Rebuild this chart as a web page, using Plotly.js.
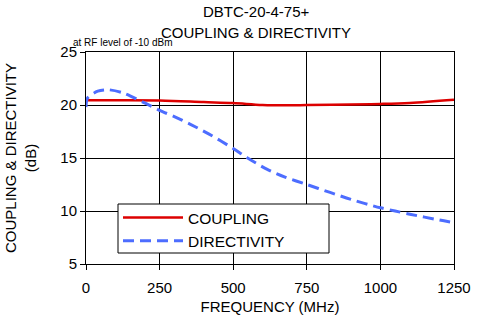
<!DOCTYPE html>
<html><head><meta charset="utf-8">
<script src="https://cdn.plot.ly/plotly-3.0.1.min.js"></script>
<style>html,body{margin:0;padding:0;background:#fff}</style>
</head><body>
<div id="chart" style="width:487px;height:315px"></div>
<script>
const couplingFreq = [0, 100, 250, 400, 500, 600, 700, 750, 900, 1000, 1100, 1250];
const couplingDb   = [20.45, 20.45, 20.43, 20.28, 20.18, 20.0, 19.97, 20.0, 20.05, 20.1, 20.2, 20.5];
const directivityFreq = [0, 5, 40, 75, 125, 195, 250, 300, 353, 415, 500, 546, 614, 676, 750, 829, 900, 1000, 1050, 1100, 1200, 1250];
const directivityDb   = [19.8, 20.65, 21.3, 21.44, 21.15, 20.25, 19.5, 18.9, 18.2, 17.3, 15.9, 15.05, 13.95, 13.2, 12.5, 11.75, 11.1, 10.3, 10.0, 9.7, 9.15, 8.9];
const xTicks = [0, 250, 500, 750, 1000, 1250];
const yTicks = [5, 10, 15, 20, 25];
const titleLines = ['DBTC-20-4-75+', 'COUPLING & DIRECTIVITY'];
const noteText = 'at RF level of -10 dBm';

const fam = 'Liberation Sans, Arial, sans-serif';
const f = s => ({family: fam, size: s, color: '#000'});
const traces = [
  {x: couplingFreq, y: couplingDb, name: 'COUPLING', mode: 'lines', line: {color: '#dd0000', width: 2.5, shape: 'spline'}},
  {x: directivityFreq, y: directivityDb, name: 'DIRECTIVITY', mode: 'lines', line: {color: '#4d6dff', width: 3, dash: '11px,6px', shape: 'spline', smoothing: 0.8}}
];
const plotW = 487 - 86 - 33;
const plotH = 315 - 52 - 51;
const px = v => (v - 86) / plotW;
const py = v => (264 - v) / plotH;
const layout = {
  width: 487, height: 315,
  margin: {l: 86, r: 33, t: 52, b: 51},
  paper_bgcolor: '#fff', plot_bgcolor: '#fff',
  font: f(15),
  xaxis: {range: [0, 1250], tickvals: xTicks, ticktext: xTicks.map(String), showgrid: true, gridcolor: '#000', gridwidth: 1,
    showline: true, linecolor: '#000', linewidth: 1, mirror: true, ticks: 'outside', ticklen: 5, tickcolor: '#000', zeroline: false,
    ticklabelstandoff: 5,
    title: {text: 'FREQUENCY (MHz)', font: f(15), standoff: 9}, tickfont: f(15)},
  yaxis: {range: [5, 25], tickvals: yTicks, ticktext: yTicks.map(String), showgrid: true, gridcolor: '#000', gridwidth: 1,
    showline: true, linecolor: '#000', linewidth: 1, mirror: true, ticks: 'outside', ticklen: 5, tickcolor: '#000', zeroline: false,
    title: {text: 'COUPLING & DIRECTIVITY<br>(dB)', font: f(15), standoff: 20}, tickfont: f(15)},
  legend: {x: px(118), y: py(201), xanchor: 'left', yanchor: 'top', bgcolor: 'rgba(0,0,0,0)', borderwidth: 0,
    font: f(15.5), tracegroupgap: 0, itemwidth: 60},
  showlegend: true,
  shapes: [
    {type: 'rect', xref: 'paper', yref: 'paper', x0: px(118), x1: px(329), y0: py(253), y1: py(204), layer: 'above',
     fillcolor: '#fff', line: {color: '#000', width: 1}}
  ],
  annotations: [
    {text: titleLines[0], xref: 'paper', yref: 'paper', x: px(256), y: py(11), xanchor: 'center', yanchor: 'middle', showarrow: false, font: f(15)},
    {text: titleLines[1], xref: 'paper', yref: 'paper', x: px(256), y: py(32), xanchor: 'center', yanchor: 'middle', showarrow: false, font: f(15)},
    {text: noteText, xref: 'paper', yref: 'paper', x: -0.04, y: 1.0, xanchor: 'left', yanchor: 'bottom', yshift: 2, showarrow: false, font: f(10)}
  ]
};
Plotly.newPlot('chart', traces, layout, {displayModeBar: false, staticPlot: true});
</script>
</body></html>
